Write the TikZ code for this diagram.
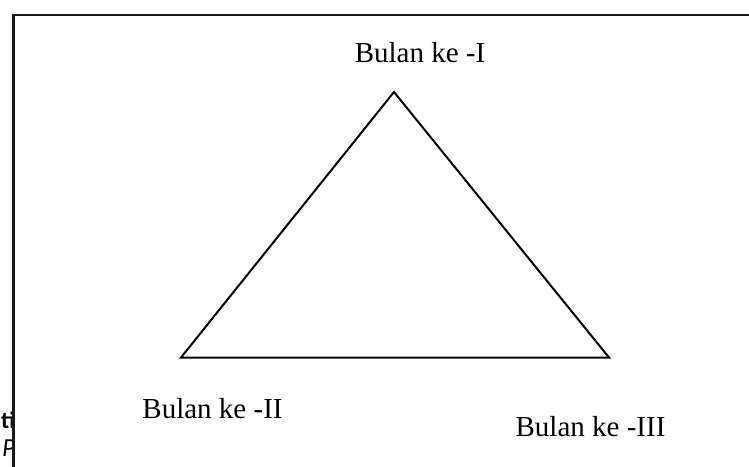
\documentclass[tikz,border=0pt]{standalone}
\usepackage{fontspec}
\setmainfont{Liberation Serif}
\newfontfamily\frag{Carlito}
\tikzset{
  lbl/.style={font=\fontsize{29}{31}\selectfont, inner sep=0pt, anchor=base},
  fraglbl/.style={inner sep=0pt},
  frameline/.style={line width=2.6pt, draw=black!90},
  tri/.style={line width=2pt, line join=miter}
}
\begin{document}
\begin{tikzpicture}[x=1pt,y=-1pt]
\useasboundingbox (0,0) rectangle (749,466);
% cut-off fragments left of the frame
\node[fraglbl, anchor=base east, font=\frag\bfseries\fontsize{24}{26}\selectfont] (fragA) at (15.5,428) {ti};
\node[fraglbl, anchor=base west, font=\frag\itshape\fontsize{26}{28}\selectfont] (fragB) at (2,456) {P};
% frame with white fill
\fill[white] (13.5,15) rectangle (760,475);
\draw[frameline] (13.5,475) -- (13.5,15) -- (760,15);
% triangle
\coordinate (top) at (394,92);
\coordinate (bl) at (181,357.5);
\coordinate (br) at (609,357.5);
\draw[tri] (top) -- (br) -- (bl) -- cycle;
% labels
\node[lbl] (l1) at (420,62) {Bulan ke -I};
\node[lbl] (l2) at (212.5,418) {Bulan ke -II};
\node[lbl] (l3) at (590.5,436.5) {Bulan ke -III};
\end{tikzpicture}
\end{document}
